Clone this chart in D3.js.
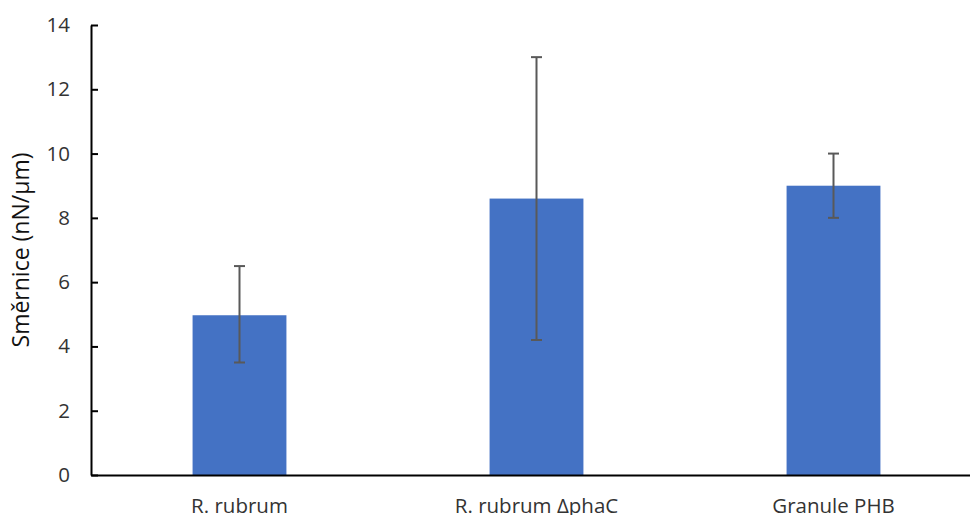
<!DOCTYPE html>
<html><head><meta charset="utf-8">
<script src="https://cdn.jsdelivr.net/npm/d3@7"></script>
<style>body{margin:0;background:#fff}svg{display:block}</style>
</head><body>
<svg id="c" width="970" height="515"></svg>
<script>
const categories = ["R. rubrum", "R. rubrum \u0394phaC", "Granule PHB"];
const values = [4.97, 8.6, 9.0];
const errLow = [3.5, 4.2, 8.0];
const errHigh = [6.5, 13.0, 10.0];
const yTicks = [0, 2, 4, 6, 8, 10, 12, 14];
const yTitle = "Sm\u011brnice (nN/\u00b5m)";

(function () {
const svg = d3.select("#c");
const font = "Open Sans, Lato, sans-serif";
const mLeft = 91, mRight = 982, mTop = 25, mBottom = 475;

const x = d3.scaleBand().domain(categories).range([mLeft, mRight]).paddingInner(0.684).paddingOuter(0.342);
const y = d3.scaleLinear().domain([0, 14]).range([mBottom, mTop]);

// bars
svg.selectAll("rect.bar").data(categories).join("rect")
  .attr("class", "bar")
  .attr("x", d => x(d)).attr("width", x.bandwidth())
  .attr("y", (d, i) => y(values[i])).attr("height", (d, i) => y(0) - y(values[i]))
  .attr("fill", "#4472C4");

// error bars
const eg = svg.append("g").attr("stroke", "#595959").attr("stroke-width", 2).attr("fill", "none");
categories.forEach((c, i) => {
  const cx = x(c) + x.bandwidth() / 2;
  eg.append("line").attr("x1", cx).attr("x2", cx).attr("y1", y(errLow[i])).attr("y2", y(errHigh[i]));
  eg.append("line").attr("x1", cx - 5.5).attr("x2", cx + 5.5).attr("y1", y(errLow[i])).attr("y2", y(errLow[i]));
  eg.append("line").attr("x1", cx - 5.5).attr("x2", cx + 5.5).attr("y1", y(errHigh[i])).attr("y2", y(errHigh[i]));
});

// y axis
const ya = svg.append("g").attr("transform", `translate(${mLeft},0)`)
  .call(d3.axisLeft(y).tickValues(yTicks).tickFormat(d3.format("d")).tickSizeInner(-7).tickSizeOuter(0).tickPadding(21));
ya.select(".domain").attr("stroke", "#000").attr("stroke-width", 2);
ya.selectAll(".tick line").attr("stroke", "#000").attr("stroke-width", 2);
ya.selectAll(".tick text").attr("font-family", font).attr("font-size", 20.5).attr("fill", "#333");

// x axis
const xa = svg.append("g").attr("transform", `translate(0,${mBottom})`)
  .call(d3.axisBottom(x).tickSize(0).tickPadding(23));
xa.select(".domain").attr("stroke", "#000").attr("stroke-width", 2);
xa.selectAll(".tick text").attr("font-family", font).attr("font-size", 20.5).attr("fill", "#333");

// y title
svg.append("text").attr("transform", "translate(29,250) rotate(-90)")
  .attr("text-anchor", "middle").attr("font-family", font).attr("font-size", 23).attr("fill", "#111")
  .text(yTitle);
})();
</script>
</body></html>
